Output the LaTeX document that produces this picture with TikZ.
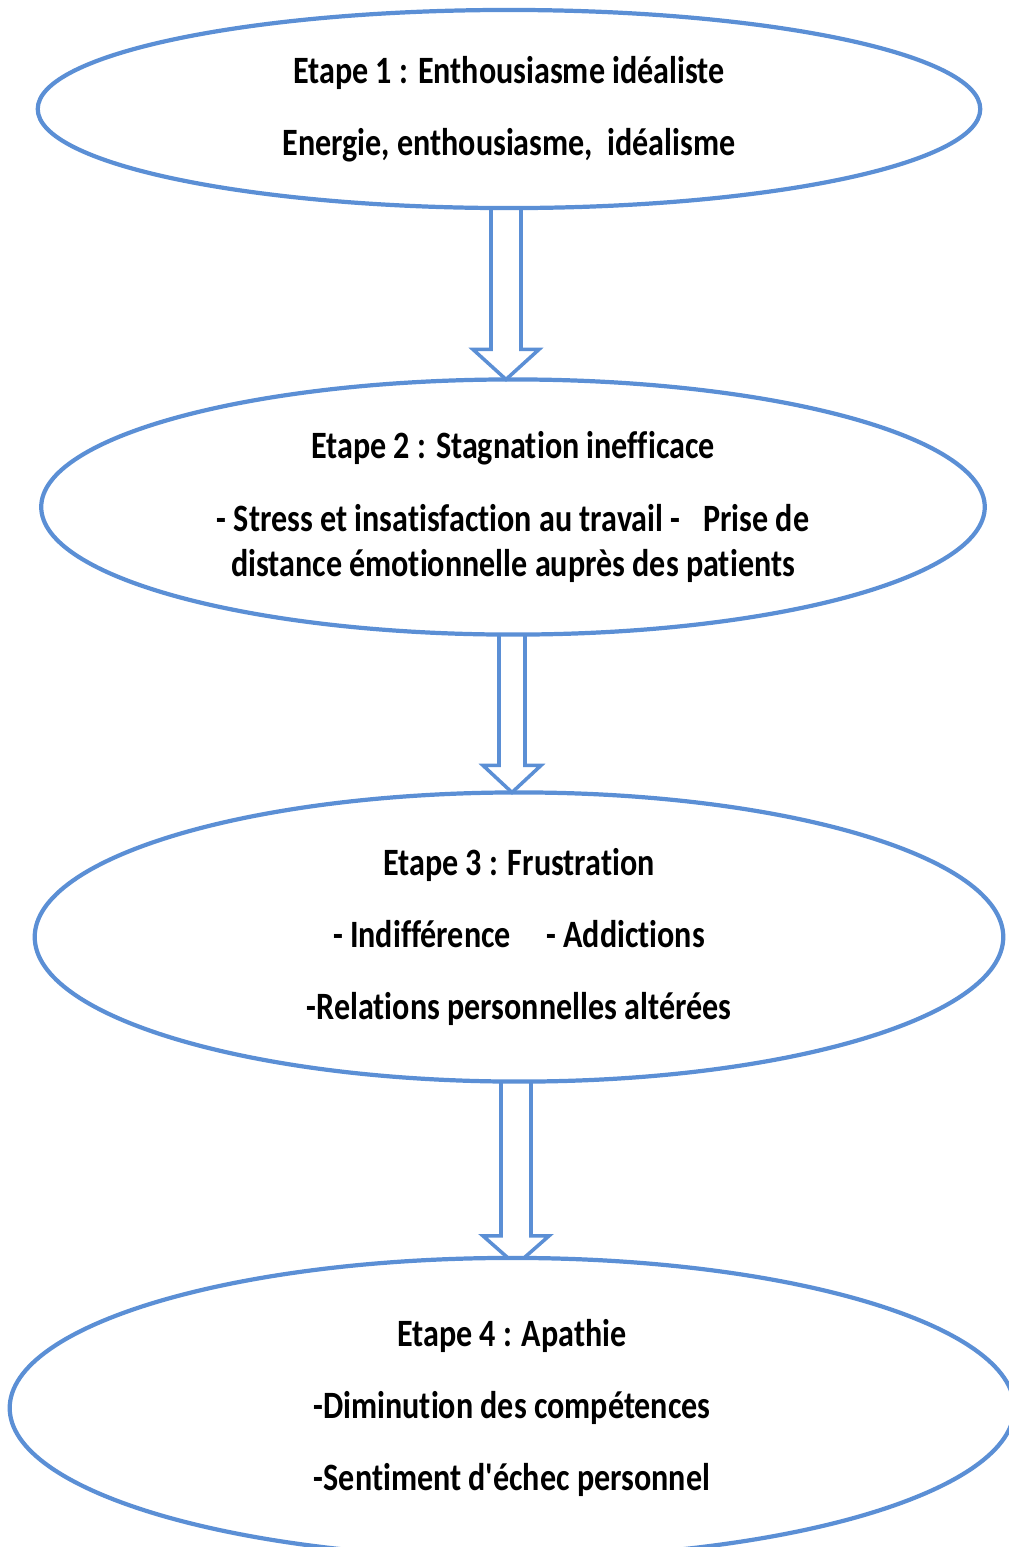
\documentclass[tikz,border=0pt]{standalone}
\usepackage{fontspec}
\setmainfont{Carlito}[FakeStretch=0.83,Ligatures={TeXOff,NoCommon}]
\usetikzlibrary{calc}
\usetikzlibrary{shapes.geometric}
\usetikzlibrary{backgrounds}
\definecolor{stageblue}{HTML}{5B8FD5}

\begin{document}
\begin{tikzpicture}[x=0.01cm,y=-0.01cm,
  stage/.style={ellipse,draw=stageblue,line width=1.2pt,inner sep=0pt,outer sep=0pt,align=center,
    font=\fontsize{11}{20.5}\selectfont\bfseries},
  hollow/.style={draw=stageblue,line width=1pt,fill=white,line join=miter}]

\useasboundingbox (0,0) rectangle (1008,1547);

\node[stage,minimum width=9.42cm,minimum height=1.98cm] (E1) at (509,109)
  {Etape 1 : Enthousiasme idéaliste\\ Energie, enthousiasme,~ idéalisme};
\node[stage,minimum width=9.43cm,minimum height=2.55cm] (E2) at (513,507)
  {Etape 2 : Stagnation inefficace\\ - Stress et insatisfaction au travail -\hspace{6.5pt}Prise de\\[-7.7pt] distance émotionnelle auprès des patients};
\node[stage,minimum width=9.68cm,minimum height=2.89cm] (E3) at (519,937)
  {Etape 3 : Frustration\\ - Indifférence\hspace{8pt} - Addictions\\ -Relations personnelles altérées};
\node[stage,minimum width=10.04cm,minimum height=3.0cm] (E4) at (512,1408)
  {Etape 4 : Apathie\\ -Diminution des compétences\\ -Sentiment d'échec personnel};

\coordinate (a1) at ($(E1.south)+(-3,0)$);
\coordinate (a2) at ($(E2.south)+(-1,0)$);
\coordinate (a3) at ($(E3.south)+(-3,0)$);

\begin{scope}[on background layer]
\draw[hollow] ($(a1)+(-15,0)$) -- ($(a1 |- E2.north)+(-15,-30)$) -- ($(a1 |- E2.north)+(-33,-30)$) -- (a1 |- E2.north) -- ($(a1 |- E2.north)+(33,-30)$) -- ($(a1 |- E2.north)+(15,-30)$) -- ($(a1)+(15,0)$);
\draw[hollow] ($(a2)+(-13,0)$) -- ($(a2 |- E3.north)+(-13,-27)$) -- ($(a2 |- E3.north)+(-29,-27)$) -- (a2 |- E3.north) -- ($(a2 |- E3.north)+(29,-27)$) -- ($(a2 |- E3.north)+(13,-27)$) -- ($(a2)+(13,0)$);
\draw[hollow] ($(a3)+(-15,0)$) -- ($(a3 |- E4.north)+(-15,-22)$) -- ($(a3 |- E4.north)+(-33,-22)$) -- ($(a3 |- E4.north)+(-8,0)$) -- ($(a3 |- E4.north)+(8,0)$) -- ($(a3 |- E4.north)+(33,-22)$) -- ($(a3 |- E4.north)+(15,-22)$) -- ($(a3)+(15,0)$);
\end{scope}

\end{tikzpicture}
\end{document}
